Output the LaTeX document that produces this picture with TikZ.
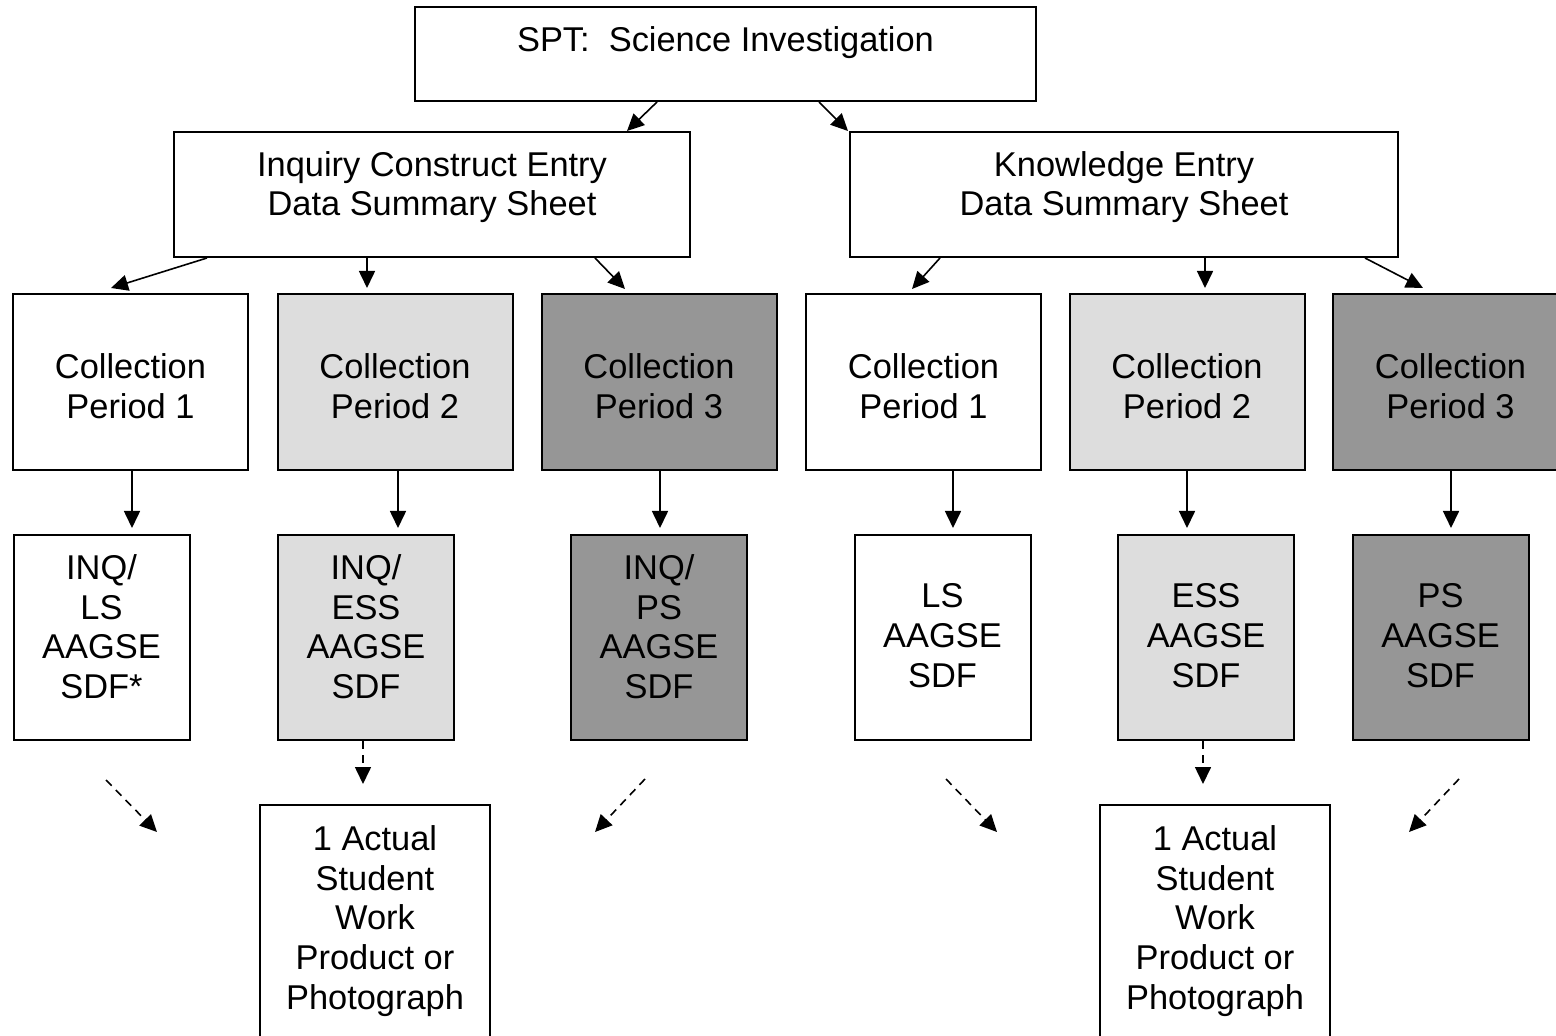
\documentclass[tikz,border=0pt]{standalone}
\usepackage{fontspec}
\setmainfont{Liberation Sans}
\usetikzlibrary{arrows.meta,calc}
\definecolor{lightfill}{RGB}{221,221,221}
\definecolor{darkfill}{RGB}{150,150,150}
\begin{document}
\begin{tikzpicture}[x=0.5pt,y=-0.5pt,
  box/.style={draw=black,line width=1pt,rectangle,inner sep=0pt},
  cpbox/.style={box,minimum width=117.5pt,minimum height=88pt},
  rowbox/.style={box,minimum width=88pt,minimum height=102.5pt},
  botbox/.style={box,minimum width=115pt,minimum height=127.5pt},
  lightbox/.style={fill=lightfill},
  darkbox/.style={fill=darkfill},
  txt/.style={align=center,inner sep=0pt,font=\fontsize{17.2pt}{19.8pt}\selectfont},
  arr/.style={line width=0.8pt,-{Triangle[length=8.5pt,width=8pt]}},
  darr/.style={arr,dash pattern=on 4pt off 3pt}]
\useasboundingbox (0,0) rectangle (1556,1036);
\clip (0,0) rectangle (1556,1036);

% top level
\node[box,minimum width=310.5pt,minimum height=47pt] (spt) at (725.5,54) {};
\node[txt] (sptt) at (725.5,44) {\strut SPT:\ \ Science Investigation\strut};

\node[box,minimum width=258pt,minimum height=62.5pt] (inq) at (432,194.5) {};
\node[txt] (inqt) at (432,188) {\strut Inquiry Construct Entry\\Data Summary Sheet\strut};
\node[box,minimum width=274pt,minimum height=62.5pt] (kno) at (1124,194.5) {};
\node[txt] (knot) at (1124,188) {\strut Knowledge Entry\\Data Summary Sheet\strut};

% collection periods
\node[cpbox] (cpA1) at (130.5,382) {};
\node[cpbox,lightbox] (cpA2) at (395,382) {};
\node[cpbox,darkbox] (cpA3) at (659,382) {};
\node[cpbox] (cpB1) at (923.5,382) {};
\node[cpbox,lightbox] (cpB2) at (1187,382) {};
\node[cpbox,darkbox] (cpB3) at (1450.5,382) {};
\node[txt] (cpA1t) at (130.5,390.5) {\strut Collection\\Period 1\strut};
\node[txt] (cpA2t) at (395,390.5) {\strut Collection\\Period 2\strut};
\node[txt] (cpA3t) at (659,390.5) {\strut Collection\\Period 3\strut};
\node[txt] (cpB1t) at (923.5,390.5) {\strut Collection\\Period 1\strut};
\node[txt] (cpB2t) at (1187,390.5) {\strut Collection\\Period 2\strut};
\node[txt] (cpB3t) at (1450.5,390.5) {\strut Collection\\Period 3\strut};

% second row
\node[rowbox] (rA1) at (101.5,637.5) {};
\node[rowbox,lightbox] (rA2) at (366,637.5) {};
\node[rowbox,darkbox] (rA3) at (659,637.5) {};
\node[rowbox] (rB1) at (942.5,637.5) {};
\node[rowbox,lightbox] (rB2) at (1206,637.5) {};
\node[rowbox,darkbox] (rB3) at (1440.5,637.5) {};
\node[txt] (rA1t) at (101.5,631) {\strut INQ/\\LS\\AAGSE\\SDF*\strut};
\node[txt] (rA2t) at (366,631) {\strut INQ/\\ESS\\AAGSE\\SDF\strut};
\node[txt] (rA3t) at (659,631) {\strut INQ/\\PS\\AAGSE\\SDF\strut};
\node[txt] (rB1t) at (942.5,639.5) {\strut LS\\AAGSE\\SDF\strut};
\node[txt] (rB2t) at (1206,639.5) {\strut ESS\\AAGSE\\SDF\strut};
\node[txt] (rB3t) at (1440.5,639.5) {\strut PS\\AAGSE\\SDF\strut};

% bottom boxes
\node[botbox] (bA) at (375,932.5) {};
\node[botbox] (bB) at (1215,932.5) {};
\node[txt] (bAt) at (375,922) {\strut 1 Actual\\Student\\Work\\Product or\\Photograph\strut};
\node[txt] (bBt) at (1215,922) {\strut 1 Actual\\Student\\Work\\Product or\\Photograph\strut};

% connectors top
\draw[arr] ($(spt.south)+(-68.5,0)$) -- ($(inq.north)+(195,0)$);
\draw[arr] ($(spt.south)+(93.5,0)$) -- ($(kno.north west)+(-1,0)$);

\draw[arr] ($(inq.south)+(-225,0)$) -- ($(cpA1.north)+(-19.5,-5)$);
\draw[arr] ($(inq.south)+(-65,0)$) -- ($(cpA2.north)+(-28,-5)$);
\draw[arr] ($(inq.south)+(163,0)$) -- ($(cpA3.north)+(-34,-4)$);
\draw[arr] ($(kno.south)+(-184,0)$) -- ($(cpB1.north)+(-11.5,-4)$);
\draw[arr] ($(kno.south)+(81,0)$) -- ($(cpB2.north)+(18,-5)$);
\draw[arr] ($(kno.south)+(241,0)$) -- ($(cpB3.north)+(-27.5,-5)$);

% vertical connectors
\draw[arr] ($(cpA1.south)+(1.5,0)$) -- ($(rA1.north)+(30.5,-6)$);
\draw[arr] ($(cpA2.south)+(3,0)$) -- ($(rA2.north)+(32,-6)$);
\draw[arr] ($(cpA3.south)+(1,0)$) -- ($(rA3.north)+(1,-6)$);
\draw[arr] ($(cpB1.south)+(29.5,0)$) -- ($(rB1.north)+(10.5,-6)$);
\draw[arr] ($(cpB2.south)+(0,0)$) -- ($(rB2.north)+(-19,-6)$);
\draw[arr] ($(cpB3.south)+(0.5,0)$) -- ($(rB3.north)+(10.5,-6)$);

% dashed connectors
\draw[darr] ($(rA2.south)+(-3,0)$) -- ($(bA.north)+(-12,-20)$);
\draw[darr] ($(rB2.south)+(-3,0)$) -- ($(bB.north)+(-12,-20)$);

\coordinate (d1s) at (106,780);
\coordinate (d1e) at (157,832);
\coordinate (d2s) at (645,779);
\coordinate (d2e) at (595,832);
\coordinate (d3s) at (946,779);
\coordinate (d3e) at (997,832);
\coordinate (d4s) at (1459,779);
\coordinate (d4e) at (1409,832);
\draw[darr] (d1s) -- (d1e);
\draw[darr] (d2s) -- (d2e);
\draw[darr] (d3s) -- (d3e);
\draw[darr] (d4s) -- (d4e);
\end{tikzpicture}
\end{document}
